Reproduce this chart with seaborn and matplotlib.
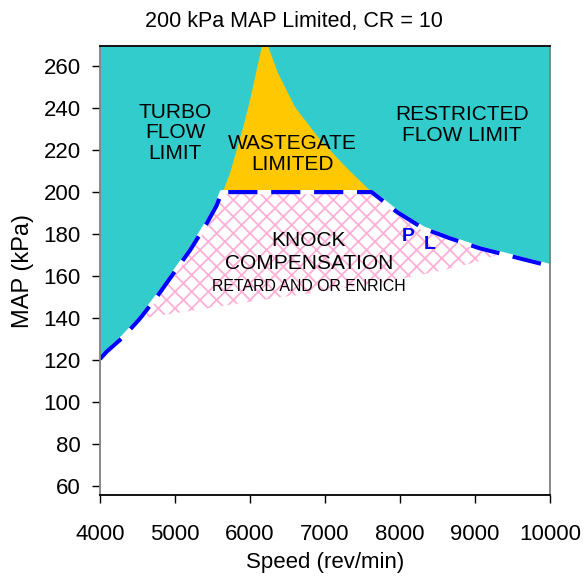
import numpy as np
import matplotlib
matplotlib.use("Agg")
import matplotlib.pyplot as plt
import seaborn as sns
import pandas as pd

# Operating boundary: turbo flow limit, 200 kPa MAP limit, restricted flow limit
boundary_rpm = [4000, 4089, 4311, 4533, 4756, 4978, 5200, 5422, 5556, 5623,
                7622, 7956, 8311, 8667, 9067, 9511, 10000]
boundary_map = [120.5, 124, 131, 139.8, 150, 161.2, 172.3, 185, 193.7, 200,
                200, 190.6, 182.7, 178, 173.2, 169.2, 164.8]

# Wastegate-limited wedge (left edge going up, right edge coming down)
wg_left_rpm = [5636, 5733, 5822, 5911, 6000, 6089, 6160]
wg_left_map = [200, 208.9, 220, 231.1, 243.8, 258.1, 269.6]
wg_right_rpm = [6240, 6373, 6600, 6907, 7227, 7427, 7622]
wg_right_map = [269.6, 256.7, 240.5, 226.2, 213.8, 206.7, 200]

# Lower edge of the knock compensation zone
knock_low_rpm = [4533, 5000, 5500, 6000, 6500, 7000, 7500, 8000, 8500, 9000, 9350]
knock_low_map = [139.8, 142.3, 145, 147.8, 150.3, 152.8, 155.6, 158.6, 162.2, 166.5, 170.8]

x_ticks = [4000, 5000, 6000, 7000, 8000, 9000, 10000]
y_ticks = [60, 80, 100, 120, 140, 160, 180, 200, 220, 240, 260]
x_range = (4000, 10000)
y_range = (55.7, 269.6)

TEAL = "#33CCCC"
GOLD = "#FFC800"
PINK = "#FFB0D6"

sns.set_theme(style="white")
plt.rcParams["font.family"] = ["Liberation Sans", "DejaVu Sans"]
plt.rcParams["hatch.linewidth"] = 1.3
for key in ("text.color", "axes.labelcolor", "xtick.color", "ytick.color",
            "xtick.labelcolor", "ytick.labelcolor"):
    plt.rcParams[key] = "black"

fig = plt.figure(figsize=(5.87, 5.78), dpi=100)
ax = fig.add_axes([100 / 587, 1 - 495 / 578, 450 / 587, 449 / 578])

bx = np.array(boundary_rpm, dtype=float)
by = np.array(boundary_map, dtype=float)

# flow-limited area above the boundary
ax.fill_between(bx, by, y_range[1], color=TEAL, linewidth=0, zorder=1)

# wastegate wedge
ax.fill(wg_left_rpm + wg_right_rpm, wg_left_map + wg_right_map,
        color=GOLD, linewidth=0, zorder=2)

# knock compensation zone: boundary on top, lower edge below
kx0, kx1 = knock_low_rpm[0], knock_low_rpm[-1]
mask = (bx > kx0) & (bx < kx1)
poly_x = [kx0] + list(bx[mask]) + [kx1] + knock_low_rpm[::-1][1:-1]
poly_y = [knock_low_map[0]] + list(by[mask]) + [knock_low_map[-1]] + knock_low_map[::-1][1:-1]
ax.fill(poly_x, poly_y, facecolor="white", edgecolor=PINK, hatch="xx",
        linewidth=0, zorder=2)

df = pd.DataFrame({"rpm": bx, "map": by})
sns.lineplot(data=df, x="rpm", y="map", ax=ax, color="white", lw=3,
             sort=False, zorder=3)
sns.lineplot(data=df, x="rpm", y="map", ax=ax, color="#0000FF", lw=3,
             linestyle=(0, (7, 3.3)), sort=False, zorder=4)

ax.set_xlim(*x_range)
ax.set_ylim(*y_range)
ax.set_xticks(x_ticks)
ax.set_yticks(y_ticks)
ax.tick_params(axis="both", which="major", direction="out", length=6, width=1,
               color="black", labelcolor="black", labelsize=16,
               bottom=True, left=True)
ax.tick_params(axis="x", pad=15)
ax.tick_params(axis="y", pad=8)

ax.spines["top"].set_color("black")
ax.spines["bottom"].set_color("black")
ax.spines["left"].set_color("#808080")
ax.spines["right"].set_color("#808080")
for s in ax.spines.values():
    s.set_linewidth(1.3)
    s.set_zorder(6)

ax.set_xlabel("Speed (rev/min)", fontsize=16, labelpad=5, color="black")
ax.set_ylabel("MAP (kPa)", fontsize=17, labelpad=7, color="black")

fig.text(0.5, 1 - 21 / 578, "200 kPa MAP Limited, CR = 10", ha="center",
         va="center", fontsize=15.5, color="black")

txt = dict(ha="center", va="center", color="black", zorder=5)
ax.text(5000, 228.2, "TURBO\nFLOW\nLIMIT", fontsize=15, linespacing=1.12, **txt)
ax.text(6570, 218.2, "WASTEGATE\nLIMITED", fontsize=15, linespacing=1.12, **txt)
ax.text(8830, 231.9, "RESTRICTED\nFLOW LIMIT", fontsize=15, linespacing=1.12, **txt)
ax.text(6784, 176.8, "KNOCK", fontsize=15, **txt)
ax.text(6784, 166.0, "COMPENSATION", fontsize=15, **txt)
ax.text(6784, 154.9, "RETARD AND OR ENRICH", fontsize=11.4, **txt)
ax.text(8111, 178.7, "P", fontsize=14, fontweight="bold", color="#0000FF",
        ha="center", va="center", zorder=5)
ax.text(8400, 174.8, "L", fontsize=14, fontweight="bold", color="#0000FF",
        ha="center", va="center", zorder=5)

fig.savefig("out.png", dpi=100)
